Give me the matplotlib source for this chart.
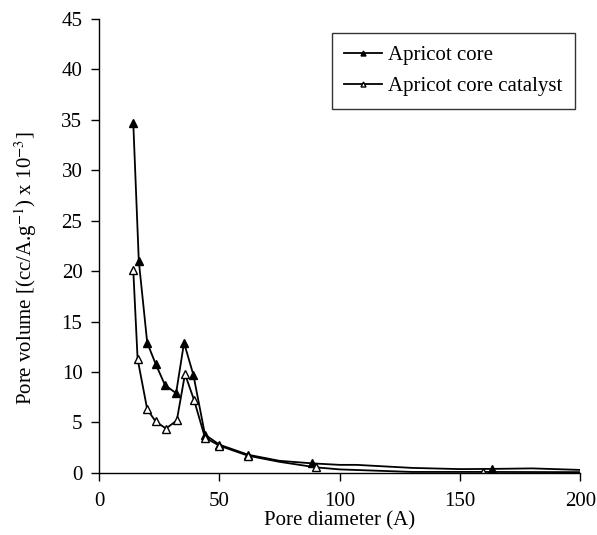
import matplotlib
matplotlib.use("Agg")
import matplotlib.pyplot as plt

plt.rcParams['font.family'] = ['Liberation Serif', 'DejaVu Serif']
plt.rcParams['mathtext.fontset'] = 'stix'

# values (pore diameter in A, pore volume x 1e-3)
core_x = [14.2, 16.5, 20.0, 23.5, 27.4, 32.0, 35.3, 39.2, 44.0, 50.0, 62.0, 75.0, 88.5, 100.0, 107.0, 130.0, 150.0, 163.3, 180.0, 200.0]
core_y = [34.7, 21.0, 12.9, 10.8, 8.7, 7.9, 12.9, 9.7, 3.8, 2.8, 1.8, 1.2, 0.95, 0.8, 0.8, 0.5, 0.38, 0.4, 0.45, 0.3]
core_marked = [0, 1, 2, 3, 4, 5, 6, 7, 8, 9, 10, 12, 17]

cat_x = [14.2, 16.0, 20.0, 23.5, 27.8, 32.3, 35.7, 39.5, 44.0, 50.0, 62.0, 75.0, 90.2, 100.0, 130.0, 159.6, 200.0]
cat_y = [20.1, 11.3, 6.3, 5.1, 4.4, 5.2, 9.8, 7.2, 3.5, 2.7, 1.7, 1.1, 0.55, 0.35, 0.1, 0.1, 0.08]
cat_marked = [0, 1, 2, 3, 4, 5, 6, 7, 8, 9, 10, 12, 15]

fig = plt.figure(figsize=(5.97, 5.35), dpi=100)
ax = fig.add_axes([0.166, 0.116, 0.806, 0.849])

ax.plot(core_x, core_y, color='black', lw=1.3, marker='^', ms=6,
        mfc='black', mec='black', markevery=core_marked, label='Apricot core')
ax.plot(cat_x, cat_y, color='black', lw=1.3, marker='^', ms=6,
        mfc='white', mec='black', mew=1.0, markevery=cat_marked, label='Apricot core catalyst')

ax.set_xlim(0, 200)
ax.set_ylim(0, 45)
ax.set_xticks([0, 50, 100, 150, 200])
ax.set_yticks(range(0, 46, 5))
ax.spines['top'].set_visible(False)
ax.spines['right'].set_visible(False)
for s in ('left', 'bottom'):
    ax.spines[s].set_linewidth(1.0)
ax.tick_params(direction='out', length=6, width=1.0, labelsize=15)
ax.tick_params(axis='x', pad=8)
ax.tick_params(axis='y', pad=6)

ax.set_xlabel('Pore diameter (A)', fontsize=15, labelpad=0)
ax.set_ylabel(r'Pore volume [(cc/A.g$^{-1}$) x 10$^{-3}$]', fontsize=15)
ax.yaxis.set_label_coords(-0.125, 0.45)

leg = ax.legend(loc='upper left', bbox_to_anchor=(0.556, 0.938), bbox_transform=fig.transFigure,
                fontsize=15, frameon=True, fancybox=False, edgecolor='black',
                handlelength=1.8, handletextpad=0.3, markerscale=0.6,
                borderpad=0.6, labelspacing=0.55, borderaxespad=0)
leg.get_frame().set_linewidth(1.0)

fig.savefig('out.png', dpi=100)
